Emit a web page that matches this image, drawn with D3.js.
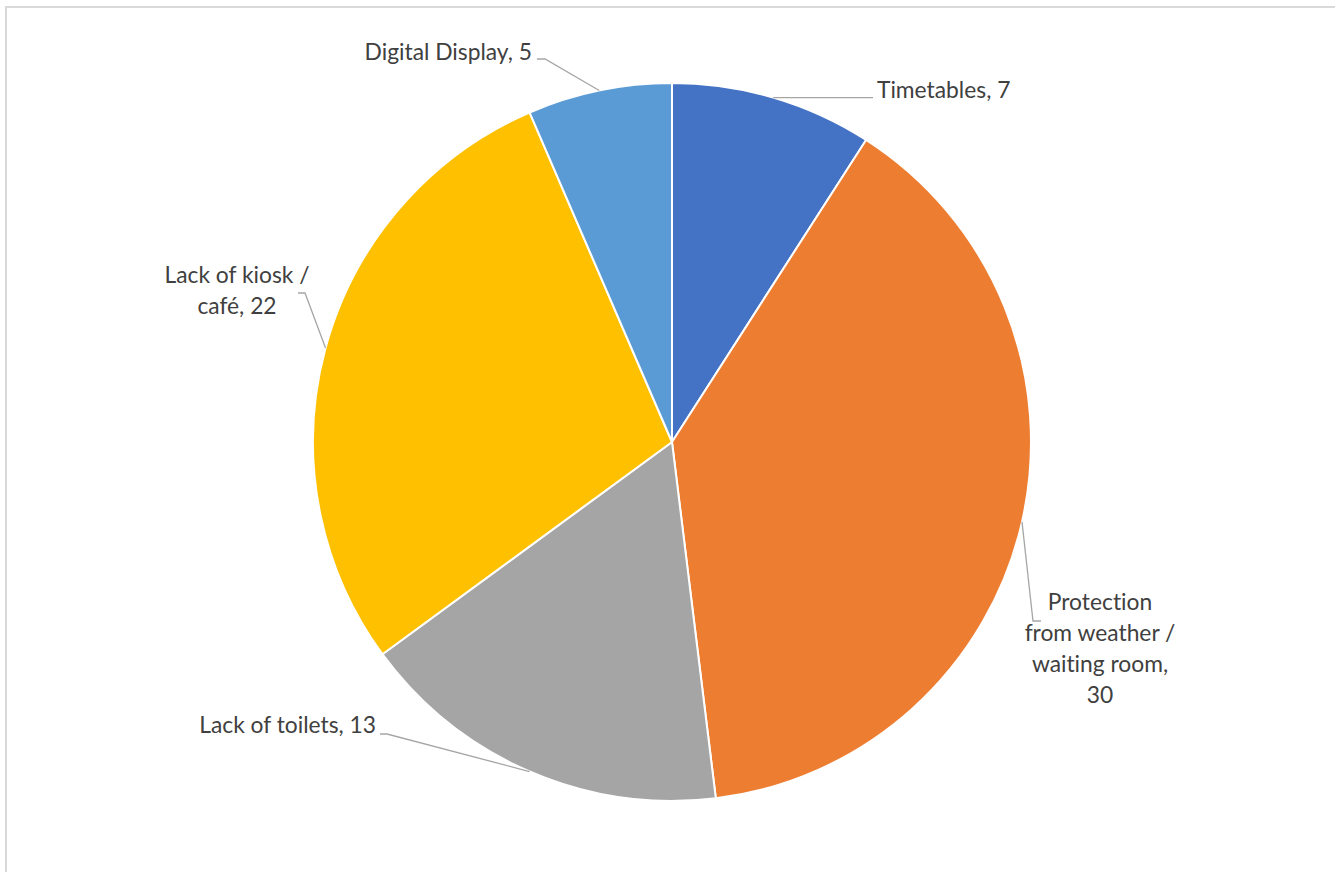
<!DOCTYPE html>
<html>
<head>
<meta charset="utf-8">
<script src="https://cdn.jsdelivr.net/npm/d3@7"></script>
<style>
  html, body { margin: 0; padding: 0; background: #fff; }
  svg { display: block; }
  text { font-family: Lato, "Open Sans", sans-serif; fill: #404040; font-variant-ligatures: none; font-feature-settings: "liga" 0, "clig" 0; }
</style>
</head>
<body>
<svg id="chart" width="1335" height="872"></svg>
<script>
// Reasons reported for dissatisfaction with the stop facilities
const categories = ["Timetables", "Protection from weather / waiting room", "Lack of toilets", "Lack of kiosk / café", "Digital Display"];
const values = [7, 30, 13, 22, 5];
const labelLines = [
  ["Timetables, 7"],
  ["Protection", "from weather /", "waiting room,", "30"],
  ["Lack of toilets, 13"],
  ["Lack of kiosk /", "café, 22"],
  ["Digital Display, 5"]
];
const colors = ["#4472C4", "#ED7D31", "#A5A5A5", "#FFC000", "#5B9BD5"];

// Label placement: text anchor point, alignment and the leader elbow points
const labelLayout = [
  { x: 877, y: 98, anchor: "start", elbow: [[873, null]] },
  { x: 1100, y: 610, anchor: "middle", elbow: [[1033, 621], [1041, 621]] },
  { x: 376, y: 733, anchor: "end", elbow: [[387, 734], [380, 734]] },
  { x: 237, y: 283, anchor: "middle", elbow: [[305, 293], [298, 293]] },
  { x: 532, y: 60, anchor: "end", elbow: [[545, 59], [537, 59]] }
];

const svg = d3.select("#chart");
const cx = 672, cy = 442, radius = 359;

// Chart area frame
svg.append("rect")
  .attr("x", 6).attr("y", 7)
  .attr("width", 1400).attr("height", 900)
  .attr("fill", "none")
  .attr("stroke", "#d9d9d9")
  .attr("stroke-width", 2);

const pie = d3.pie().sort(null).value(d => d)(values);
const arc = d3.arc().innerRadius(0).outerRadius(radius);

const g = svg.append("g").attr("transform", `translate(${cx},${cy})`);

g.selectAll("path.slice")
  .data(pie)
  .join("path")
  .attr("class", "slice")
  .attr("d", arc)
  .attr("fill", (d, i) => colors[i])
  .attr("stroke", "#fff")
  .attr("stroke-width", 2)
  .attr("stroke-linejoin", "round");

// Leader lines from the slice edge midpoint to the label
pie.forEach((d, i) => {
  const mid = (d.startAngle + d.endAngle) / 2;
  const px = cx + radius * Math.sin(mid);
  const py = cy - radius * Math.cos(mid);
  const pts = [[px, py]];
  labelLayout[i].elbow.forEach(([ex, ey]) => pts.push([ex, ey === null ? py : ey]));
  svg.append("path")
    .attr("d", d3.line()(pts))
    .attr("fill", "none")
    .attr("stroke", "#a6a6a6")
    .attr("stroke-width", 1.3);
});

// Data labels
labelLines.forEach((lines, i) => {
  const L = labelLayout[i];
  const t = svg.append("text")
    .attr("x", L.x).attr("y", L.y)
    .attr("text-anchor", L.anchor)
    .attr("font-size", 22.8);
  lines.forEach((s, k) => {
    t.append("tspan")
      .attr("x", L.x)
      .attr("dy", k === 0 ? 0 : 31)
      .text(s);
  });
});
</script>
</body>
</html>
